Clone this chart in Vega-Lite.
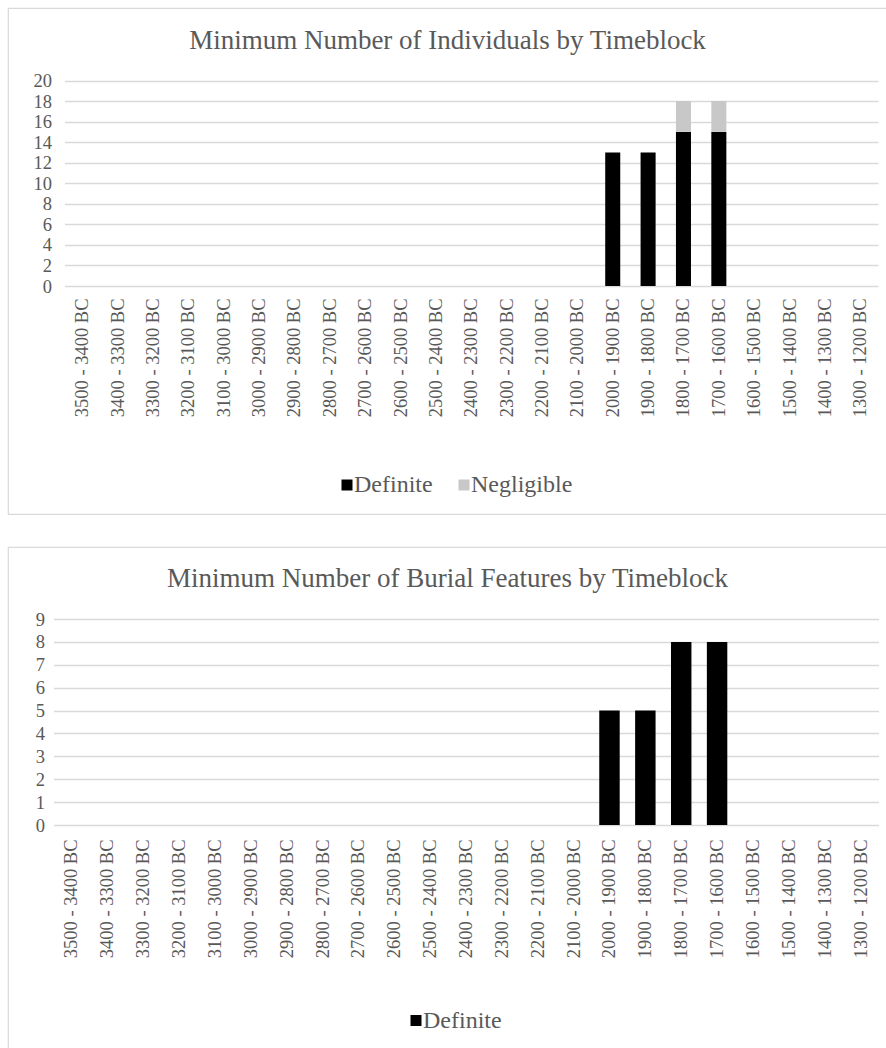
{
  "$schema": "https://vega.github.io/schema/vega-lite/v6.json",
  "padding": {"left": 7, "top": 7, "right": 0, "bottom": 0},
  "background": "#ffffff",
  "spacing": 31,
  "resolve": {"scale": {"color": "independent", "x": "independent", "y": "independent"}, "legend": {"color": "independent"}},
  "config": {
    "font": "Liberation Serif",
    "view": {"stroke": "#d9d9d9", "strokeWidth": 1.2},
    "axis": {"labelFont": "Liberation Serif", "labelColor": "#595959", "domain": false, "ticks": false, "tickSize": 0, "title": null},
    "legend": {"labelFont": "Liberation Serif", "labelColor": "#595959", "padding": 0}
  },
  "datasets": {
    "individuals": [
      {"timeblock": "2000 - 1900 BC", "type": "Definite", "count": 13},
      {"timeblock": "2000 - 1900 BC", "type": "Negligible", "count": 0},
      {"timeblock": "1900 - 1800 BC", "type": "Definite", "count": 13},
      {"timeblock": "1900 - 1800 BC", "type": "Negligible", "count": 0},
      {"timeblock": "1800 - 1700 BC", "type": "Definite", "count": 15},
      {"timeblock": "1800 - 1700 BC", "type": "Negligible", "count": 3},
      {"timeblock": "1700 - 1600 BC", "type": "Definite", "count": 15},
      {"timeblock": "1700 - 1600 BC", "type": "Negligible", "count": 3}
    ],
    "burials": [
      {"timeblock": "2000 - 1900 BC", "type": "Definite", "count": 5},
      {"timeblock": "1900 - 1800 BC", "type": "Definite", "count": 5},
      {"timeblock": "1800 - 1700 BC", "type": "Definite", "count": 8},
      {"timeblock": "1700 - 1600 BC", "type": "Definite", "count": 8}
    ]
  },
  "vconcat": [
    {
      "width": 879,
      "height": 506,
      "title": {"text": "Minimum Number of Individuals by Timeblock", "anchor": "middle", "frame": "group", "offset": -60, "baseline": "middle", "fontSize": 27, "font": "Liberation Serif", "fontWeight": "normal", "color": "#595959"},
      "data": {"name": "individuals"},
      "mark": {"type": "bar"},
      "encoding": {
        "x": {
          "field": "timeblock", "type": "nominal", "sort": null,
          "scale": {
            "domain": ["3500 - 3400 BC","3400 - 3300 BC","3300 - 3200 BC","3200 - 3100 BC","3100 - 3000 BC","3000 - 2900 BC","2900 - 2800 BC","2800 - 2700 BC","2700 - 2600 BC","2600 - 2500 BC","2500 - 2400 BC","2400 - 2300 BC","2300 - 2200 BC","2200 - 2100 BC","2100 - 2000 BC","2000 - 1900 BC","1900 - 1800 BC","1800 - 1700 BC","1700 - 1600 BC","1600 - 1500 BC","1500 - 1400 BC","1400 - 1300 BC","1300 - 1200 BC"],
            "range": [56.5, 870], "paddingInner": 0.575, "paddingOuter": 0.2875
          },
          "axis": {"labelAngle": -90, "labelAlign": "right", "labelBaseline": "middle", "labelFontSize": 18.5, "labelPadding": 12, "offset": -228, "grid": false, "labelOverlap": false}
        },
        "y": {
          "field": "count", "type": "quantitative", "stack": "zero",
          "scale": {"domain": [0, 20], "nice": false, "zero": true, "range": [278, 72.5]},
          "axis": {"values": [0,2,4,6,8,10,12,14,16,18,20], "labelFontSize": 18.5, "labelPadding": 13, "offset": -56.5, "grid": true, "gridColor": "#d9d9d9", "gridWidth": 1.5, "labelOverlap": false}
        },
        "color": {
          "field": "type", "type": "nominal",
          "scale": {"domain": ["Definite", "Negligible"], "range": ["#000000", "#c8c8c8"]},
          "legend": {"title": null, "orient": "none", "direction": "horizontal", "legendX": 327, "legendY": 465, "symbolType": "square", "symbolSize": 121, "symbolStrokeWidth": 0, "labelFontSize": 24, "labelOffset": -5, "columnPadding": 19}
        },
        "order": {"field": "type", "sort": "ascending"}
      }
    },
    {
      "width": 879,
      "height": 504,
      "title": {"text": "Minimum Number of Burial Features by Timeblock", "anchor": "middle", "frame": "group", "offset": -58.5, "baseline": "middle", "fontSize": 27, "font": "Liberation Serif", "fontWeight": "normal", "color": "#595959"},
      "data": {"name": "burials"},
      "mark": {"type": "bar"},
      "encoding": {
        "x": {
          "field": "timeblock", "type": "nominal", "sort": null,
          "scale": {
            "domain": ["3500 - 3400 BC","3400 - 3300 BC","3300 - 3200 BC","3200 - 3100 BC","3100 - 3000 BC","3000 - 2900 BC","2900 - 2800 BC","2800 - 2700 BC","2700 - 2600 BC","2600 - 2500 BC","2500 - 2400 BC","2400 - 2300 BC","2300 - 2200 BC","2200 - 2100 BC","2100 - 2000 BC","2000 - 1900 BC","1900 - 1800 BC","1800 - 1700 BC","1700 - 1600 BC","1600 - 1500 BC","1500 - 1400 BC","1400 - 1300 BC","1300 - 1200 BC"],
            "range": [45.5, 870.5], "paddingInner": 0.43, "paddingOuter": 0.215
          },
          "axis": {"labelAngle": -90, "labelAlign": "right", "labelBaseline": "middle", "labelFontSize": 18.5, "labelPadding": 14, "offset": -226, "grid": false, "labelOverlap": false}
        },
        "y": {
          "field": "count", "type": "quantitative",
          "scale": {"domain": [0, 9], "nice": false, "zero": true, "range": [278, 72]},
          "axis": {"values": [0,1,2,3,4,5,6,7,8,9], "labelFontSize": 18.5, "labelPadding": 9, "offset": -45.5, "grid": true, "gridColor": "#d9d9d9", "gridWidth": 1.5, "labelOverlap": false}
        },
        "color": {
          "field": "type", "type": "nominal",
          "scale": {"domain": ["Definite"], "range": ["#000000"]},
          "legend": {"title": null, "orient": "none", "direction": "horizontal", "legendX": 396, "legendY": 461.5, "symbolType": "square", "symbolSize": 121, "symbolStrokeWidth": 0, "labelFontSize": 24, "labelOffset": -5}
        }
      }
    }
  ]
}
